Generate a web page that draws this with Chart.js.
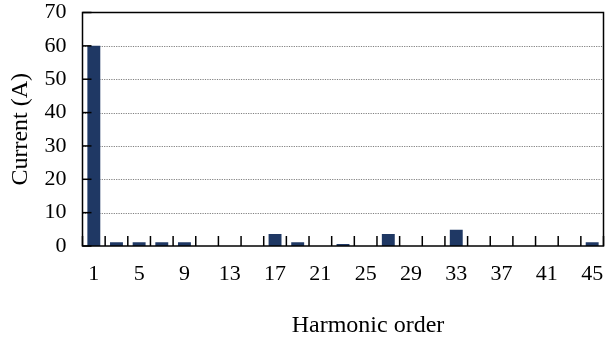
<!DOCTYPE html>
<html>
<head>
<meta charset="utf-8">
<script src="https://cdn.jsdelivr.net/npm/chart.js@4/dist/chart.umd.min.js"></script>
<style>
  html, body { margin: 0; padding: 0; background: #fff; }
  #wrap { width: 605px; height: 343px; }
</style>
</head>
<body>
<div id="wrap"><canvas id="c" width="605" height="343"></canvas></div>
<script>
// Harmonic orders (odd harmonics 1..45)
const orders = ['1','3','5','7','9','11','13','15','17','19','21','23','25','27','29','31','33','35','37','39','41','43','45'];
// Current (A)
const currents = [60, 1.1, 1.1, 1.1, 1.1, 0, 0, 0, 3.6, 1.1, 0, 0.6, 0, 3.6, 0, 0, 4.9, 0, 0, 0, 0, 0, 1.1];
// Y axis ticks
const yTicks = [0, 10, 20, 30, 40, 50, 60, 70];

const FONT = "'Liberation Serif', 'Times New Roman', serif";

const framePlugin = {
  id: 'frame',
  beforeDatasetsDraw(chart) {
    const { ctx, chartArea: a, scales: { y } } = chart;
    ctx.save();
    ctx.strokeStyle = '#808080';
    ctx.lineWidth = 1.2;
    ctx.setLineDash([1.2, 1.2]);
    yTicks.forEach(v => {
      if (v > 0 && v < 70) {
        const py = Math.round(y.getPixelForValue(v)) + 0.5;
        ctx.beginPath();
        ctx.moveTo(a.left, py);
        ctx.lineTo(a.right, py);
        ctx.stroke();
      }
    });
    ctx.restore();
  },
  afterDatasetsDraw(chart) {
    const { ctx, chartArea: a, scales: { x, y } } = chart;
    ctx.save();
    ctx.strokeStyle = '#000';
    ctx.lineWidth = 1.5;
    ctx.setLineDash([]);
    // x tick marks at category boundaries (inward)
    const half = (x.getPixelForValue(1) - x.getPixelForValue(0)) / 2;
    for (let i = 0; i <= orders.length; i++) {
      const px = x.getPixelForValue(i) - half;
      ctx.beginPath();
      ctx.moveTo(px, a.bottom);
      ctx.lineTo(px, a.bottom - 10);
      ctx.stroke();
    }
    // y tick marks (inward)
    yTicks.forEach(v => {
      const py = y.getPixelForValue(v);
      ctx.beginPath();
      ctx.moveTo(a.left, py);
      ctx.lineTo(a.left + 9, py);
      ctx.stroke();
    });
    // frame
    ctx.strokeRect(a.left, a.top, a.right - a.left, a.bottom - a.top);
    ctx.restore();
  }
};

new Chart(document.getElementById('c'), {
  type: 'bar',
  data: {
    labels: orders,
    datasets: [{
      data: currents,
      backgroundColor: '#1f3864',
      borderColor: '#1f3864',
      borderWidth: 0,
      categoryPercentage: 1.0,
      barPercentage: 0.57
    }]
  },
  options: {
    responsive: false,
    animation: false,
    devicePixelRatio: 1,
    layout: { padding: { top: 12.5, right: 1.5, left: 0, bottom: 0 } },
    plugins: { legend: { display: false }, tooltip: { enabled: false } },
    scales: {
      x: {
        type: 'category',
        offset: true,
        grid: { display: false, drawTicks: false },
        border: { display: false },
        ticks: {
          autoSkip: false,
          maxRotation: 0,
          minRotation: 0,
          padding: 15.5,
          color: '#000',
          font: { family: FONT, size: 22 },
          callback: function(val, idx) { return idx % 2 === 0 ? orders[idx] : ''; }
        },
        title: {
          display: true,
          text: 'Harmonic order',
          color: '#000',
          font: { family: FONT, size: 24 },
          padding: { top: 0, bottom: 2.6 }
        },
        afterFit(scale) {
          scale.height = 97;
          scale.paddingLeft = 0; scale.paddingRight = 0;
          scale.paddingTop = 0; scale.paddingBottom = 0;
          if (!scale._shiftedTitle) {
            const orig = scale.drawTitle.bind(scale);
            scale.drawTitle = function() {
              const c = this.ctx;
              c.save();
              c.translate(25, 0);
              orig();
              c.restore();
            };
            scale._shiftedTitle = true;
          }
        }
      },
      y: {
        min: 0,
        max: 70,
        grid: { display: false, drawTicks: false },
        border: { display: false },
        ticks: {
          stepSize: 10,
          padding: 16,
          color: '#000',
          font: { family: FONT, size: 22 }
        },
        title: {
          display: true,
          text: 'Current (A)',
          color: '#000',
          font: { family: FONT, size: 24 },
          padding: { top: 6.6, bottom: 0 }
        },
        afterFit(scale) {
          scale.width = 82.5;
          scale.paddingLeft = 0; scale.paddingRight = 0;
          scale.paddingTop = 0; scale.paddingBottom = 0;
        }
      }
    }
  },
  plugins: [framePlugin]
});
</script>
</body>
</html>
